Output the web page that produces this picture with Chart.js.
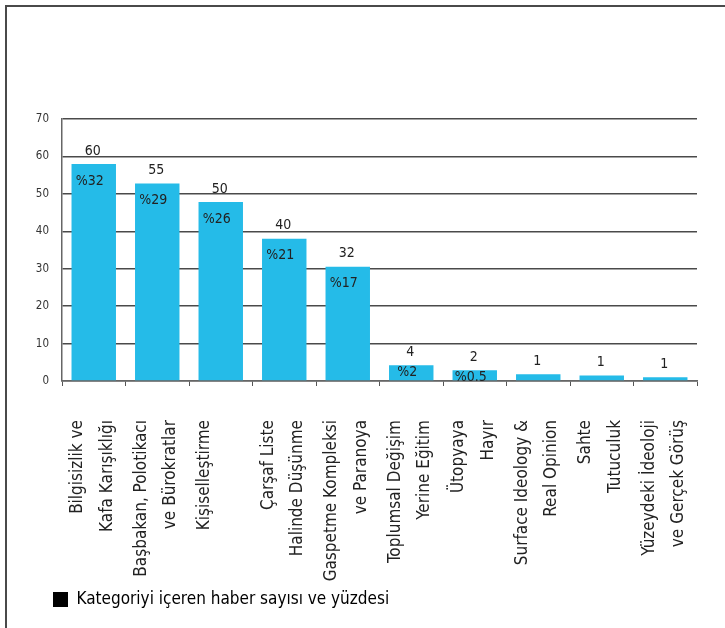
<!DOCTYPE html>
<html>
<head>
<meta charset="utf-8">
<script src="https://cdn.jsdelivr.net/npm/chart.js@4/dist/chart.umd.min.js"></script>
<style>
  html, body { margin: 0; padding: 0; background: #fff; }
  #wrap { position: absolute; left: 0; top: 0; width: 725px; height: 628px; }
  #frame { position: absolute; left: 5px; top: 5px; width: 760px; height: 660px; border: 2px solid #4a4a4a; pointer-events: none; }
</style>
</head>
<body>
<div id="frame"></div>
<div id="wrap"><canvas id="c"></canvas></div>
<script>
const categories = [
  ["Bilgisizlik ve", "Kafa Karışıklığı"],
  ["Başbakan, Polotikacı", "ve Bürokratlar"],
  ["Kişiselleştirme", ""],
  ["Çarşaf Liste", "Halinde Düşünme"],
  ["Gaspetme Kompleksi", "ve Paranoya"],
  ["Toplumsal Değişim", "Yerine Eğitim"],
  ["Ütopyaya", "Hayır"],
  ["Surface Ideology &", "Real Opinion"],
  ["Sahte", "Tutuculuk"],
  ["Yüzeydeki İdeoloji", "ve Gerçek Görüş"]
];
const barValues = [58, 52.8, 47.8, 38, 30.5, 4.2, 2.9, 1.8, 1.5, 1];
const countLabels = ["60", "55", "50", "40", "32", "4", "2", "1", "1", "1"];
const percentLabels = ["%32", "%29", "%26", "%21", "%17", "%2", "%0.5", "", "", ""];
const yTicks = [0, 10, 20, 30, 40, 50, 60, 70];
const seriesName = "Kategoriyi içeren haber sayısı ve yüzdesi";

const FONT = "'Liberation Sans Narrow', 'DejaVu Sans Condensed', 'Roboto', sans-serif";
const BAR = '#25bbe8';

const labelPlugin = {
  id: 'barLabels',
  afterLayout(chart) {
    if (chart.legend) { chart.legend.left += 43; }
  },
  afterDatasetsDraw(chart) {
    const ctx = chart.ctx;
    const meta = chart.getDatasetMeta(0);
    ctx.save();
    ctx.fillStyle = '#222';
    ctx.textAlign = 'center';
    ctx.textBaseline = 'middle';
    meta.data.forEach((bar, i) => {
      ctx.font = "14px " + FONT;
      ctx.fillText(countLabels[i], bar.x - 1, bar.y - 13);
      const h = bar.base - bar.y;
      if (percentLabels[i]) {
        const py = h < 20 ? bar.y + 7 : bar.y + 17;
        ctx.fillText(percentLabels[i], bar.x - 4, py);
      }
    });
    ctx.restore();
  }
};

new Chart(document.getElementById('c'), {
  type: 'bar',
  data: {
    labels: categories,
    datasets: [{
      label: seriesName,
      data: barValues,
      backgroundColor: BAR,
      borderWidth: 0,
      categoryPercentage: 0.7,
      barPercentage: 1.0
    }]
  },
  options: {
    responsive: true,
    maintainAspectRatio: false,
    animation: false,
    devicePixelRatio: 1,
    layout: { padding: { top: 119, right: 28, left: 0, bottom: 10 } },
    plugins: {
      tooltip: { enabled: false },
      legend: {
        display: true,
        position: 'bottom',
        align: 'start',
        labels: {
          boxWidth: 15,
          boxHeight: 15,
          padding: 10,
          color: '#222',
          font: { family: FONT, size: 17 },
          generateLabels(chart) {
            return [{ text: seriesName, fillStyle: '#000', strokeStyle: '#000', lineWidth: 0, datasetIndex: 0 }];
          }
        }
      }
    },
    scales: {
      x: {
        grid: { display: true, drawOnChartArea: false, drawTicks: true, tickLength: 5, color: '#555', offset: true },
        border: { display: true, color: '#666', width: 1.5 },
        ticks: {
          autoSkip: false,
          maxRotation: 90,
          minRotation: 90,
          padding: 34,
          labelOffset: -16,
          color: '#222',
          font: { family: FONT, size: 17, lineHeight: 1.75 }
        },
        afterFit(s) { s.height = 200; s.paddingLeft = 0; s.paddingRight = 0; }
      },
      y: {
        min: 0,
        max: 70,
        afterBuildTicks(s) { s.ticks = yTicks.map(v => ({ value: v })); },
        grid: { color: '#4a4a4a', lineWidth: 1.5, drawTicks: false },
        border: { display: true, color: '#666', width: 1.5 },
        ticks: {
          padding: 13,
          color: '#333',
          font: { family: FONT, size: 11.5 }
        },
        afterFit(s) { s.width = 62; s.paddingTop = 0; s.paddingBottom = 0; }
      }
    }
  },
  plugins: [labelPlugin]
});
</script>
</body>
</html>
